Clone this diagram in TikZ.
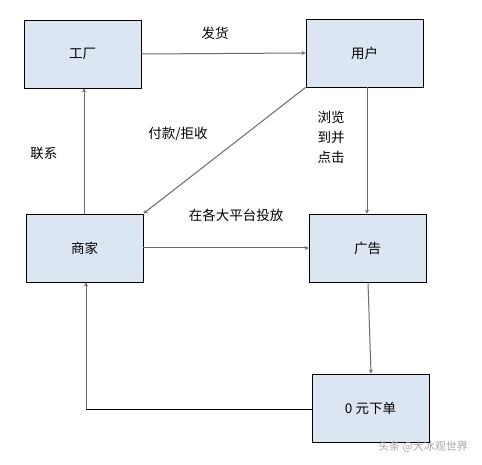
\documentclass[tikz,border=0pt]{standalone}
\usepackage{fontspec}
\newfontfamily\cjk{Noto Sans CJK SC}
\usetikzlibrary{arrows.meta}
\definecolor{boxfill}{HTML}{DCE6F2}
\definecolor{linegray}{HTML}{6A6A6A}
\tikzset{
  box/.style={draw=black, line width=0.9pt, fill=boxfill, minimum width=117pt, minimum height=68pt, inner sep=0pt, font=\cjk\fontsize{13.5}{15}\selectfont},
  conn/.style={draw=linegray, line width=1pt, -{Stealth[length=4pt,width=4pt]}},
  lbl/.style={font=\cjk\fontsize{13.5}{20}\selectfont, align=center, inner sep=0pt},
}
\begin{document}
\begin{tikzpicture}[x=1pt,y=-1pt]
\useasboundingbox (0,0) rectangle (482,465);
\node[box] (gc) at (82.5,54) {工厂};
\node[box] (yh) at (364.5,53) {用户};
\node[box] (sj) at (84.5,248) {商家};
\node[box] (gg) at (367.5,248) {广告};
\node[box] (ly) at (370.5,408) {0 元下单};
\coordinate (c1) at (86,409);
\draw[conn] (gc.east) -- (yh.west);
\draw[conn] (sj.north -| 84,0) -- (gc.south -| 84,0);
\draw[conn] (yh.south west) -- (sj.north east);
\draw[conn] (yh.south -| 367,0) -- (gg.north -| 367,0);
\draw[conn] (sj.east) -- (gg.west);
\draw[conn] (gg.south -| 368,0) -- (ly.north -| 371,0);
\draw[black, line width=0.8pt] (ly.west |- c1) -- (c1);
\draw[conn, draw=linegray] (c1) -- (sj.south -| c1);
\node[lbl] (t1) at (215,33) {发货};
\node[lbl] (t2) at (44,153) {联系};
\node[lbl] (t3) at (178,134) {付款/拒收};
\node[lbl] (t4) at (331,137) {浏览\\到并\\点击};
\node[lbl] (t5) at (236,215) {在各大平台投放};
\node[lbl, text=gray!70, font=\cjk\fontsize{11}{13}\selectfont] (wm) at (423,447) {头条 @大冰观世界};
\end{tikzpicture}
\end{document}
